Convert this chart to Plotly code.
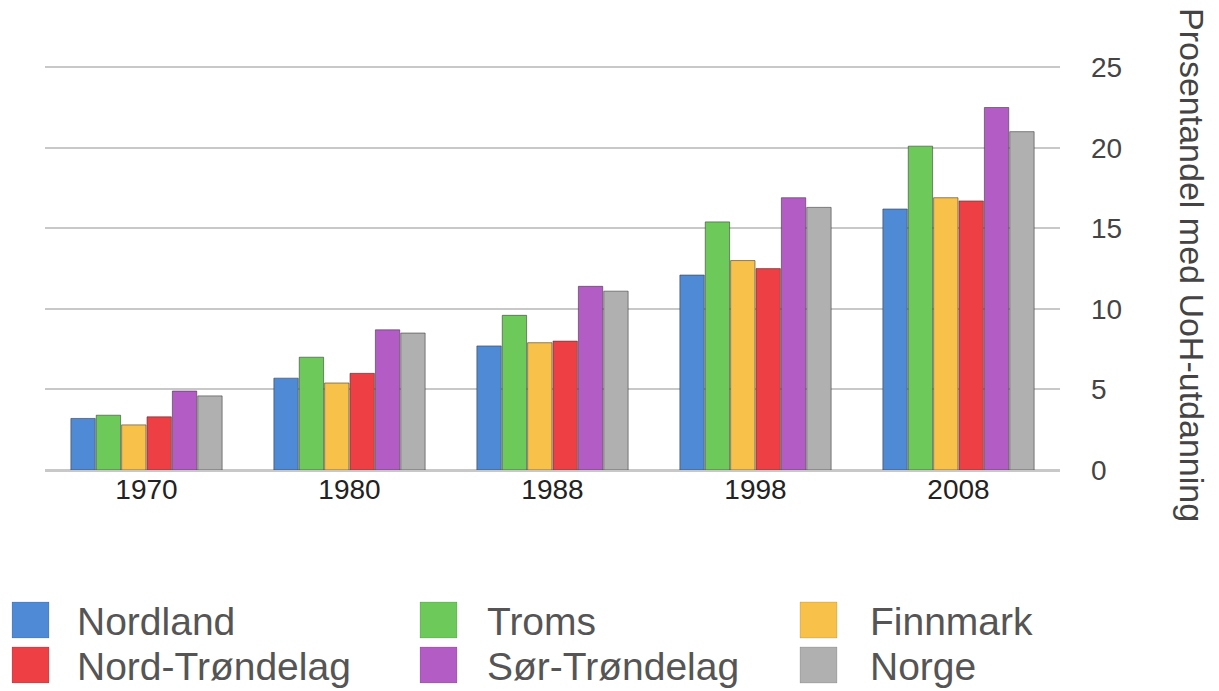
import plotly.graph_objects as go

years = ["1970", "1980", "1988", "1998", "2008"]
series_names = ["Nordland", "Troms", "Finnmark", "Nord-Trøndelag", "Sør-Trøndelag", "Norge"]
nordland = [3.2, 5.7, 7.7, 12.1, 16.2]
troms = [3.4, 7.0, 9.6, 15.4, 20.1]
finnmark = [2.8, 5.4, 7.9, 13.0, 16.9]
nord_trondelag = [3.3, 6.0, 8.0, 12.5, 16.7]
sor_trondelag = [4.9, 8.7, 11.4, 16.9, 22.5]
norge = [4.6, 8.5, 11.1, 16.3, 21.0]
values = [nordland, troms, finnmark, nord_trondelag, sor_trondelag, norge]
colors = ["#4f8ad6", "#6cc95a", "#f8c24a", "#ee3f45", "#b45cc6", "#b0b0b0"]
ytick_vals = [0, 5, 10, 15, 20, 25]
ytitle = "Prosentandel med UoH-utdanning"

fig = go.Figure()
for name, vals, col in zip(series_names, values, colors):
    fig.add_trace(go.Bar(x=years, y=vals, name=name,
                         marker=dict(color=col, line=dict(color="rgba(60,60,60,0.6)", width=1)),
                         showlegend=False))

# page has an 8px body margin: figure coords = page coords - 8
OFF = 8
W, H = 1219 - OFF, 691 - OFF
L, R, T, B = 45 - OFF, 159, 64 - OFF, 221
pw, ph = W - L - R, H - T - B

def px(x):  # page pixel -> paper
    return (x - OFF - L) / pw

def py(y):
    return (H - B - (y - OFF)) / ph

# manual legend (page pixel positions)
legend_pos = [(12, 620), (420, 620), (800, 620), (12, 665), (420, 665), (800, 665)]
text_x = [77, 487, 870, 77, 487, 870]
shapes = []
annotations = []
for (x0, yc), tx, name, col in zip(legend_pos, text_x, series_names, colors):
    shapes.append(dict(type="rect", xref="paper", yref="paper",
                       x0=px(x0), x1=px(x0 + 37), y0=py(yc + 18), y1=py(yc - 18),
                       fillcolor=col, line=dict(color="rgba(0,0,0,0.12)", width=1)))
    annotations.append(dict(xref="paper", yref="paper", x=px(tx - 2), y=py(yc + 1),
                            xanchor="left", yanchor="middle", text=name, showarrow=False,
                            font=dict(size=39, color="#555", family="Liberation Sans, Arial")))

annotations.append(dict(xref="paper", yref="paper", x=px(1192), y=py(265), text=ytitle,
                        textangle=90, showarrow=False, xanchor="center", yanchor="middle",
                        font=dict(size=34, color="#444", family="Liberation Sans, Arial")))

fig.update_layout(
    width=W, height=H,
    margin=dict(l=L, r=R, t=T, b=B),
    paper_bgcolor="white", plot_bgcolor="white",
    barmode="group", bargap=0.25, bargroupgap=0.04,
    font=dict(family="Liberation Sans, Arial", color="#333"),
    xaxis=dict(showgrid=False, showline=False, ticks="", tickfont=dict(size=28, color="#222")),
    yaxis=dict(side="right", range=[0, 25.2], tickvals=ytick_vals, showgrid=True,
               gridcolor="#c8c8c8", gridwidth=2, zeroline=True, zerolinecolor="#c8c8c8",
               zerolinewidth=3, tickfont=dict(size=28, color="#444"), ticks="",
               ticklabelstandoff=30),
    shapes=shapes, annotations=annotations, showlegend=False,
)

fig.write_html("out.html")
